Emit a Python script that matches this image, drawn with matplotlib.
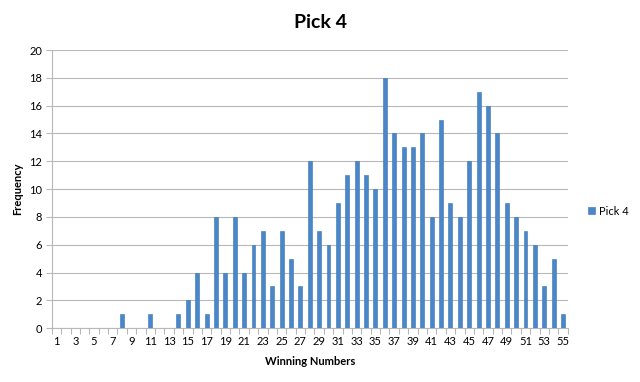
import numpy as np
import matplotlib
matplotlib.use("Agg")
import matplotlib.pyplot as plt

plt.rcParams['font.family'] = ['Lato', 'DejaVu Sans']

numbers = list(range(1, 56))
frequency = [0, 0, 0, 0, 0, 0, 0, 1, 0, 0,
             1, 0, 0, 1, 2, 4, 1, 8, 4, 8,
             4, 6, 7, 3, 7, 5, 3, 12, 7, 6,
             9, 11, 12, 11, 10, 18, 14, 13, 13, 14,
             8, 15, 9, 8, 12, 17, 16, 14, 9, 8,
             7, 6, 3, 5, 1]
tick_labels = [str(n) for n in numbers[::2]]

BAR_COLOR = '#4a87c9'
GRID_COLOR = '#b8b8b8'

fig = plt.figure(figsize=(6.4, 3.82), dpi=100)
ax = fig.add_axes([0.081, 0.141, 0.806, 0.728])

ax.bar(numbers, frequency, width=0.42, color=BAR_COLOR, edgecolor='#3b74b4',
       linewidth=0.4, label='Pick 4', zorder=3)

ax.set_xlim(0.5, 55.5)
ax.set_ylim(0, 20)
ax.set_yticks(range(0, 21, 2))
ax.set_yticklabels([str(v) for v in range(0, 21, 2)], fontsize=8)
ax.yaxis.grid(True, color=GRID_COLOR, linewidth=0.8, zorder=0)
ax.set_axisbelow(True)

# category labels on odd numbers, tick marks at category boundaries
ax.set_xticks(numbers[::2])
ax.set_xticklabels(tick_labels, fontsize=8)
ax.tick_params(axis='x', which='major', length=0, pad=6)
ax.set_xticks(np.arange(0.5, 56, 1), minor=True)
ax.tick_params(axis='x', which='minor', length=4, color=GRID_COLOR, width=0.8)
ax.tick_params(axis='y', length=4, color=GRID_COLOR, width=0.8, pad=3)

for side in ['top', 'right']:
    ax.spines[side].set_visible(False)
for side in ['left', 'bottom']:
    ax.spines[side].set_color(GRID_COLOR)
    ax.spines[side].set_linewidth(0.8)

ax.set_xlabel('Winning Numbers', fontsize=8, fontweight='bold', labelpad=6)
ax.set_ylabel('Frequency', fontsize=8, fontweight='bold', labelpad=4)
fig.text(0.5, 0.94, 'Pick 4', ha='center', va='center', fontsize=14,
         fontweight='bold')

ax.legend(loc='center left', bbox_to_anchor=(1.02, 0.42), frameon=False,
          fontsize=8, handlelength=0.6, handleheight=0.6, handletextpad=0.4)

fig.savefig('out.png', dpi=100, facecolor='white')
